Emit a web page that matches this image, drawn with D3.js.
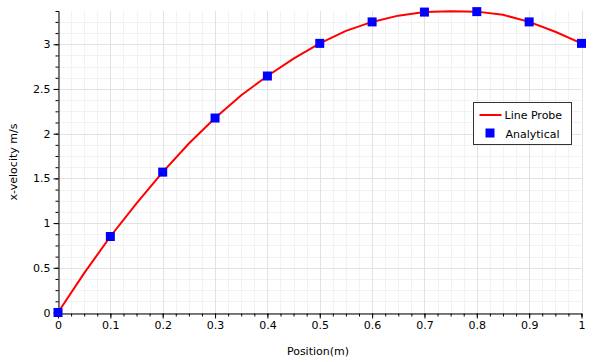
<html>
<head>
<meta charset="utf-8">
<script src="https://d3js.org/d3.v7.min.js"></script>
<style>
  body { margin: 0; background: #fff; font-family: "DejaVu Sans", sans-serif; }
  text { font-size: 11px; fill: #000; }
</style>
</head>
<body>
<div id="chart"></div>
<script>
// analytical solution points
const posA = [0, 0.1, 0.2, 0.3, 0.4, 0.5, 0.6, 0.7, 0.8, 0.9, 1.0];
const velA = [0, 0.85, 1.57, 2.175, 2.645, 3.01, 3.25, 3.36, 3.365, 3.25, 3.01];

// line probe samples
const posL = [0, 0.05, 0.1, 0.15, 0.2, 0.25, 0.3, 0.35, 0.4, 0.45, 0.5, 0.55, 0.6, 0.65, 0.7, 0.75, 0.8, 0.85, 0.9, 0.95, 1.0];
const velL = [0, 0.44, 0.85, 1.22, 1.57, 1.89, 2.175, 2.43, 2.645, 2.84, 3.01, 3.15, 3.25, 3.32, 3.36, 3.37, 3.365, 3.33, 3.25, 3.14, 3.01];

const xTicks = [0, 0.1, 0.2, 0.3, 0.4, 0.5, 0.6, 0.7, 0.8, 0.9, 1];
const yTicks = [0, 0.5, 1, 1.5, 2, 2.5, 3];

const W = 606, H = 362;
const svg = d3.select("#chart").append("svg")
  .attr("width", W).attr("height", H);

const x = d3.scaleLinear().domain([0, 1]).range([58, 581.5]);
const y = d3.scaleLinear().domain([0, 3.372]).range([312.5, 11]);

const xMinor = d3.range(0, 1.0001, 0.025);
const yMinor = d3.range(0, 3.372, 0.125);

// minor grid
svg.append("g").selectAll("line").data(xMinor).join("line")
  .attr("x1", d => Math.round(x(d)) + 0.5).attr("x2", d => Math.round(x(d)) + 0.5)
  .attr("y1", y.range()[0]).attr("y2", y.range()[1])
  .attr("stroke", "#f2f2f2");
svg.append("g").selectAll("line").data(yMinor).join("line")
  .attr("y1", d => Math.round(y(d)) + 0.5).attr("y2", d => Math.round(y(d)) + 0.5)
  .attr("x1", x.range()[0]).attr("x2", x.range()[1])
  .attr("stroke", "#f2f2f2");
// major grid
svg.append("g").selectAll("line").data(xTicks).join("line")
  .attr("x1", d => Math.round(x(d)) + 0.5).attr("x2", d => Math.round(x(d)) + 0.5)
  .attr("y1", y.range()[0]).attr("y2", y.range()[1])
  .attr("stroke", "#e2e2e2");
svg.append("g").selectAll("line").data(yTicks).join("line")
  .attr("y1", d => Math.round(y(d)) + 0.5).attr("y2", d => Math.round(y(d)) + 0.5)
  .attr("x1", x.range()[0]).attr("x2", x.range()[1])
  .attr("stroke", "#e2e2e2");

// axes
const xAxis = svg.append("g")
  .attr("transform", `translate(0, ${Math.round(y(0)) + 0.5})`);
xAxis.call(d3.axisBottom(x).tickValues(xMinor).tickSize(3).tickFormat(""));
xAxis.call(g => g.select(".domain").attr("stroke", "#000"));
const xLab = svg.append("g")
  .attr("transform", `translate(0, ${Math.round(y(0)) + 0.5})`)
  .call(d3.axisBottom(x).tickValues(xTicks).tickSize(5).tickFormat(d3.format("")));
xLab.select(".domain").remove();
xLab.selectAll("text").attr("dy", "0.71em").attr("y", 8)
  .style("font-size", "11px").style("font-family", "DejaVu Sans");

const yAxis = svg.append("g")
  .attr("transform", `translate(${Math.round(x(0)) + 0.5}, 0)`);
yAxis.call(d3.axisLeft(y).tickValues(yMinor).tickSize(3).tickFormat(""));
yAxis.call(g => g.select(".domain").attr("stroke", "#000"));
const yLab = svg.append("g")
  .attr("transform", `translate(${Math.round(x(0)) + 0.5}, 0)`)
  .call(d3.axisLeft(y).tickValues(yTicks).tickSize(5).tickFormat(d3.format("")));
yLab.select(".domain").remove();
yLab.selectAll("text").attr("x", -8)
  .style("font-size", "11px").style("font-family", "DejaVu Sans");

// axis titles
svg.append("text").attr("x", 318).attr("y", 355).attr("text-anchor", "middle")
  .text("Position(m)");
svg.append("text").attr("transform", "translate(17, 162) rotate(-90)")
  .attr("text-anchor", "middle").text("x-velocity m/s");

// line probe
const line = d3.line().x((d, i) => x(posL[i])).y(d => y(d));
svg.append("path").datum(velL)
  .attr("d", line).attr("fill", "none")
  .attr("stroke", "#ff0000").attr("stroke-width", 2);

// analytical markers
svg.append("g").selectAll("rect").data(velA).join("rect")
  .attr("x", (d, i) => x(posA[i]) - 4.5).attr("y", d => y(d) - 4.5)
  .attr("width", 9).attr("height", 9).attr("fill", "#0000ff");

// legend
const lg = svg.append("g").attr("transform", "translate(473.5, 102.5)");
lg.append("rect").attr("width", 98).attr("height", 42)
  .attr("fill", "#fff").attr("stroke", "#333");
lg.append("line").attr("x1", 6).attr("x2", 28).attr("y1", 12.5).attr("y2", 12.5)
  .attr("stroke", "#ff0000").attr("stroke-width", 2);
lg.append("text").attr("x", 31).attr("y", 16.5).text("Line Probe");
lg.append("rect").attr("x", 12).attr("y", 26).attr("width", 9).attr("height", 9)
  .attr("fill", "#0000ff");
lg.append("text").attr("x", 32).attr("y", 35).text("Analytical");
</script>
</body>
</html>
